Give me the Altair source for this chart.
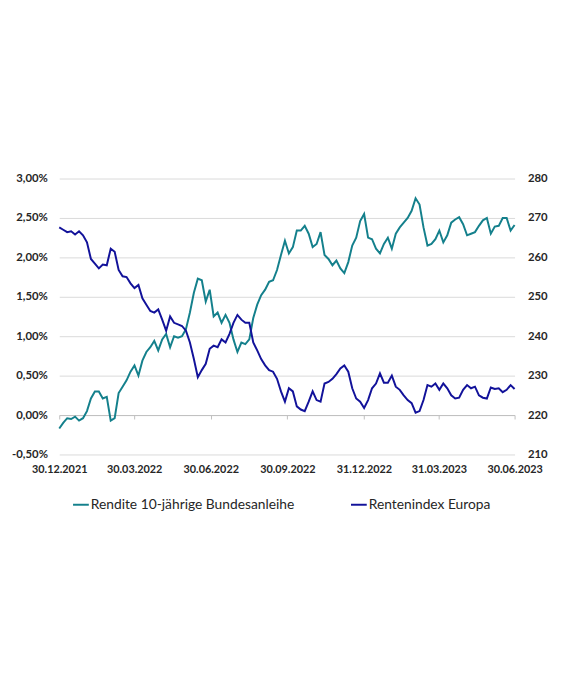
import altair as alt
import pandas as pd

SER1 = "Rendite 10-jährige Bundesanleihe"
SER2 = "Rentenindex Europa"
TEAL = "#14808c"
NAVY = "#12129a"
TXT = "#262626"
FONT = "Lato"

dates = pd.date_range("2021-12-30", "2023-06-30", periods=116).strftime("%Y-%m-%dT%H:%M:%S").tolist()

rendite = [
    -0.17, -0.10, -0.04, -0.05, -0.02, -0.07, -0.04, 0.05, 0.21, 0.30,
    0.30, 0.21, 0.23, -0.07, -0.04, 0.28, 0.36, 0.44, 0.55, 0.63,
    0.50, 0.69, 0.80, 0.86, 0.94, 0.82, 0.96, 1.03, 0.86, 1.00,
    0.98, 1.00, 1.09, 1.30, 1.55, 1.73, 1.71, 1.44, 1.59,
    1.25, 1.30, 1.17, 1.27, 1.17, 0.96, 0.80, 0.92, 0.90, 0.96,
    1.23, 1.40, 1.52, 1.59, 1.69, 1.71, 1.84, 2.03, 2.21,
    2.05, 2.13, 2.34, 2.34, 2.40, 2.30, 2.13, 2.17, 2.32, 2.03,
    1.98, 1.90, 1.96, 1.86, 1.80, 1.94, 2.15, 2.25, 2.46, 2.55,
    2.25, 2.23, 2.11, 2.05, 2.17, 2.25, 2.11, 2.30, 2.38, 2.44,
    2.50, 2.59, 2.75, 2.67, 2.38, 2.15, 2.17, 2.23, 2.34, 2.19,
    2.28, 2.44, 2.48, 2.51, 2.42, 2.28, 2.30, 2.32, 2.40, 2.47,
    2.50, 2.30, 2.39, 2.40, 2.50, 2.50, 2.34, 2.41,
]

rentenindex = [
    267.6, 267.0, 266.4, 266.6, 265.8, 266.6, 265.6, 263.8, 259.6, 258.4,
    257.2, 258.2, 258.0, 262.2, 261.4, 256.8, 255.2, 255.0, 253.4, 252.2,
    253.0, 249.6, 248.0, 246.4, 246.0, 246.8, 244.2, 241.4, 245.0, 243.4,
    243.0, 242.6, 241.4, 238.4, 234.2, 229.6, 231.4, 233.0, 236.8,
    237.6, 237.2, 239.2, 238.4, 240.6, 243.4, 245.4, 244.2, 243.4, 243.4,
    238.4, 236.4, 234.2, 232.6, 231.4, 231.0, 229.2, 226.0, 223.4,
    226.8, 226.0, 222.2, 221.4, 221.0, 223.4, 226.0, 223.8, 223.4, 228.0,
    228.4, 229.2, 230.4, 231.8, 232.6, 231.0, 226.8, 224.2, 223.4, 221.8,
    223.8, 226.8, 228.0, 230.6, 228.2, 228.2, 230.0, 227.2, 226.4, 225.0,
    223.8, 223.0, 220.6, 221.0, 223.8, 227.6, 227.2, 228.0, 226.4, 228.0,
    226.8, 225.0, 224.2, 224.4, 226.4, 227.6, 226.8, 227.2, 225.0, 224.4,
    224.2, 227.0, 226.6, 226.8, 225.8, 226.4, 227.6, 226.6,
]

left_ticks = [-0.5, 0.0, 0.5, 1.0, 1.5, 2.0, 2.5, 3.0]
right_ticks = [210, 220, 230, 240, 250, 260, 270, 280]
tick_dates = [
    alt.DateTime(year=2021, month=12, date=30),
    alt.DateTime(year=2022, month=3, date=30),
    alt.DateTime(year=2022, month=6, date=30),
    alt.DateTime(year=2022, month=9, date=30),
    alt.DateTime(year=2022, month=12, date=31),
    alt.DateTime(year=2023, month=3, date=31),
    alt.DateTime(year=2023, month=6, date=30),
]

df1 = pd.DataFrame({"date": dates, "value": rendite, "series": SER1})
df2 = pd.DataFrame({"date": dates, "value": rentenindex, "series": SER2})

color = alt.Color(
    "series:N",
    scale=alt.Scale(domain=[SER1, SER2], range=[TEAL, NAVY]),
    legend=alt.Legend(
        title=None, orient="none", legendX=13, legendY=322, direction="horizontal",
        symbolType="stroke", symbolSize=256, symbolStrokeWidth=2,
        labelFont=FONT, labelFontSize=14, labelColor=TXT, columnPadding=53, labelOffset=1,
        labelLimit=0,
    ),
)

x = alt.X(
    "date:T",
    scale=alt.Scale(domain=[tick_dates[0], tick_dates[-1]]),
    axis=alt.Axis(
        title=None, values=tick_dates, format="%d.%m.%Y", offset=-40, tickSize=4,
        labelPadding=45, grid=False, domainColor="#bfbfbf", tickColor="#bfbfbf",
        labelFont=FONT, labelFontWeight="bold", labelFontSize=11, labelColor=TXT,
        labelFlush=False, labelOverlap=False,
    ),
)

line1 = alt.Chart(df1).mark_line(strokeWidth=2).encode(
    x=x,
    y=alt.Y(
        "value:Q",
        scale=alt.Scale(domain=[-0.5, 3.0], nice=False),
        axis=alt.Axis(
            title=None, values=left_ticks, orient="left",
            labelExpr="replace(replace(format(datum.value, '.2f'), '.', ','), '\u2212', '-') + '%'",
            domain=False, ticks=False, labelPadding=12, grid=True, gridColor="#d9d9d9",
            labelFont=FONT, labelFontWeight="bold", labelFontSize=11.5, labelColor=TXT,
        ),
    ),
    color=color,
)

line2 = alt.Chart(df2).mark_line(strokeWidth=2).encode(
    x=x,
    y=alt.Y(
        "value:Q",
        scale=alt.Scale(domain=[210, 280], nice=False),
        axis=alt.Axis(
            title=None, values=right_ticks, orient="right", format="d",
            domain=False, ticks=False, labelPadding=13, grid=False,
            labelFont=FONT, labelFontWeight="bold", labelFontSize=11.5, labelColor=TXT,
        ),
    ),
    color=color,
)

chart = (
    alt.layer(line1, line2)
    .resolve_scale(y="independent")
    .properties(
        width=462, height=280, autosize="none",
        padding={"left": 52, "top": 169, "right": 40, "bottom": 100},
    )
    .configure_view(stroke=None)
)

chart.save("out.html", embed_options={"renderer": "svg", "actions": False})
